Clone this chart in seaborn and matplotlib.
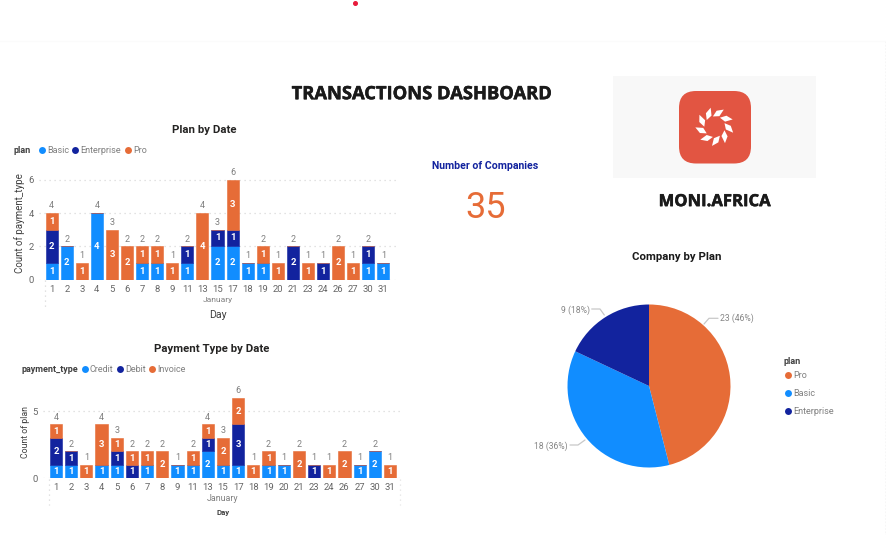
import matplotlib
matplotlib.use("Agg")
import matplotlib.pyplot as plt
import matplotlib.patheffects as pe
from matplotlib.patches import FancyBboxPatch, Polygon, Rectangle
from matplotlib.transforms import Affine2D
import pandas as pd
import seaborn as sns

days = [1, 2, 3, 4, 5, 6, 7, 8, 9, 11, 13, 15, 17, 18, 19, 20, 21, 23, 24, 26, 27, 30, 31]
basic = [1, 2, 0, 4, 0, 0, 1, 1, 0, 1, 0, 2, 2, 1, 1, 0, 0, 0, 0, 0, 0, 1, 1]
enterprise = [2, 0, 0, 0, 0, 0, 0, 0, 0, 1, 0, 1, 1, 0, 0, 0, 2, 0, 1, 0, 0, 1, 0]
pro = [1, 0, 1, 0, 3, 2, 1, 1, 1, 0, 4, 0, 3, 0, 1, 1, 0, 1, 0, 2, 1, 0, 0]

days_payment = [1, 2, 3, 4, 5, 6, 7, 8, 9, 11, 13, 15, 17, 18, 19, 20, 21, 23, 24, 26, 27, 30, 31]
credit = [1, 1, 0, 1, 1, 0, 1, 0, 1, 1, 2, 1, 1, 0, 1, 1, 0, 0, 0, 0, 1, 2, 0]
debit = [2, 1, 0, 0, 1, 1, 0, 0, 0, 0, 1, 0, 3, 0, 0, 0, 0, 1, 0, 0, 0, 0, 0]
invoice = [1, 0, 1, 3, 1, 1, 1, 2, 0, 1, 1, 2, 2, 1, 1, 0, 2, 0, 1, 2, 0, 0, 1]

pie_names = ["Pro", "Basic", "Enterprise"]
pie_values = [23, 18, 9]
pie_labels = ["23 (46%)", "18 (36%)", "9 (18%)"]
company_count = "35"

BLUE, NAVY, ORANGE = "#118DFF", "#12239E", "#E66C37"
GREY = "#7F7F7F"
W, H = 886, 535
FONT = ["Roboto", "DejaVu Sans"]
HEAD = ["Open Sans", "DejaVu Sans"]
STROKE = [pe.withStroke(linewidth=0.35, foreground="#1A1A1A")]

sns.set_theme(style="white")
plt.rcParams["font.family"] = FONT

fig = plt.figure(figsize=(W / 100, H / 100), dpi=100, facecolor="white")


def axes_px(x0, y0, x1, y1):
    return fig.add_axes([x0 / W, 1 - y1 / H, (x1 - x0) / W, (y1 - y0) / H])


def ftext(x, y, s, **kw):
    kw.setdefault("ha", "center")
    kw.setdefault("va", "center")
    return fig.text(x / W, 1 - (y + 0.6) / H, s, **kw)


def stacked(ax, labels, series):
    colours = [BLUE, NAVY, ORANGE]
    order = [str(d) for d in labels]
    base = [0] * len(labels)
    for values, colour in zip(series, colours):
        frame = pd.DataFrame({"day": order, "n": values})
        sns.barplot(data=frame, x="day", y="n", ax=ax, color=colour, bottom=base,
                    width=0.8, saturation=1, errorbar=None, order=order,
                    edgecolor=colour, linewidth=0.4, zorder=3)
        for i, v in enumerate(values):
            if v:
                ax.text(i, base[i] + v / 2, str(v), ha="center", va="center", color="white",
                        fontsize=6.8, fontweight="bold", zorder=4)
        base = [b + v for b, v in zip(base, values)]
    return base


def style(ax, totals, ticks):
    for i, t in enumerate(totals):
        ax.annotate(str(t), (i, t), xytext=(0, 2), textcoords="offset points",
                    ha="center", va="bottom", fontsize=6.5, color=GREY, annotation_clip=False)
    ax.set_yticks(ticks)
    ax.tick_params(axis="both", length=0, labelsize=6.8, labelcolor="#666666")
    ax.tick_params(axis="y", pad=4)
    ax.tick_params(axis="x", pad=3.6)
    ax.set_xlabel("")
    ax.set_ylabel("")
    sns.despine(ax=ax, left=True, bottom=True, top=True, right=True)
    ax.set_axisbelow(True)
    ax.grid(axis="y", color="#D9D9D9", linestyle=(0, (1, 3)), linewidth=0.9)
    ax.grid(axis="x", visible=False)
    ax.patch.set_alpha(0)


# top stacked chart
ax1 = axes_px(39.3, 165, 395.7, 279.5)
tot1 = stacked(ax1, days, [basic, enterprise, pro])
ax1.set_xlim(-0.823, 22.82)
ax1.set_ylim(0, 6 * 114.5 / 99.6)
style(ax1, tot1, [0, 2, 4, 6])

# bottom stacked chart
ax2 = axes_px(43, 385, 400, 478.3)
tot2 = stacked(ax2, days_payment, [credit, debit, invoice])
ax2.set_xlim(-0.856, 22.66)
ax2.set_ylim(0, 5 * 93.3 / 67.3)
style(ax2, tot2, [0, 5])

# dotted frames below the category labels
for x0, x1, y0, y1 in [(44.5, 396, 280, 307), (48.5, 400, 479, 505)]:
    fig.add_artist(plt.Line2D([x0 / W, x0 / W], [1 - y0 / H, 1 - y1 / H], color="#D9D9D9",
                              linestyle=(0, (1, 3)), linewidth=0.9))
fig.add_artist(plt.Line2D([399.5 / W] * 2, [1 - 479 / H, 1 - 505 / H], color="#E3E3E3",
                          linestyle=(0, (1, 3)), linewidth=0.9))

# axis and chart titles
ftext(422, 93.6, "TRANSACTIONS DASHBOARD", fontsize=13.2, fontweight="bold", color="#1A1A1A",
      family=HEAD, path_effects=STROKE)
ftext(204.5, 129, "Plan by Date", fontsize=8.2, fontweight="bold", color="#252423")
ftext(211.5, 348, "Payment Type by Date", fontsize=8.2, fontweight="bold", color="#252423")
ftext(217.5, 299, "January", fontsize=6, color=GREY)
ftext(217.5, 314, "Day", fontsize=7.6, color="#404040")
ftext(223, 498, "January", fontsize=6.4, color=GREY)
ftext(223, 512.3, "Day", fontsize=5.6, fontweight="bold", color="#404040")
ftext(20, 222.5, "Count of payment_type", fontsize=7, color="#404040", rotation=90)
ftext(25, 431.5, "Count of plan", fontsize=6.3, color="#404040", rotation=90)


def dot(x, y, colour):
    fig.add_artist(plt.Line2D([x / W], [1 - y / H], marker="o", markersize=5, markeredgewidth=0,
                              color=colour, linestyle="none"))


def legend_row(y, title, title_x, items):
    ftext(title_x, y, title, ha="left", fontsize=6.5, fontweight="bold", color="#404040")
    for dot_x, name, colour in items:
        dot(dot_x, y, colour)
        ftext(dot_x + 5, y, name, ha="left", fontsize=6.5, color=GREY)


legend_row(150, "plan", 13.5, [(42, "Basic", BLUE), (75, "Enterprise", NAVY), (128, "Pro", ORANGE)])
legend_row(368.5, "payment_type", 21, [(85, "Credit", BLUE), (120, "Debit", NAVY), (152, "Invoice", ORANGE)])

# KPI card
ftext(485, 165.3, "Number of Companies", fontsize=7.6, fontweight="bold", color="#12239E")
ftext(485.5, 207.5, company_count, fontsize=26, color=ORANGE)

# logo card
overlay = fig.add_axes([0, 0, 1, 1], zorder=-1)
overlay.set_xlim(0, W)
overlay.set_ylim(H, 0)
overlay.axis("off")
overlay.add_patch(Rectangle((613.5, 76), 203, 102, facecolor="#F8F8F8", edgecolor="none"))
overlay.add_patch(FancyBboxPatch((679, 91), 72, 72.5, boxstyle="round,pad=0,rounding_size=17",
                                 facecolor="#E25542", edgecolor="none"))
petal = [(-6.4, -8.2), (-0.8, -11.5), (0, -19.4), (-5.8, -15)]
for k in range(9):
    tr = Affine2D().rotate_deg(k * 40 - 12).translate(714.7, 126.7) + overlay.transData
    overlay.add_patch(Polygon(petal, closed=True, facecolor="white", edgecolor="none", transform=tr))

ftext(714.5, 200.5, "MONI.AFRICA", fontsize=12, fontweight="bold", color="#1A1A1A", family=HEAD,
      path_effects=STROKE)
fig.add_artist(plt.Line2D([885.5 / W] * 2, [1 - 41 / H, 0], color="#666666",
                          linestyle=(0, (1.5, 1.5)), linewidth=0.8))
fig.add_artist(plt.Line2D([0, 885 / W], [1 - 40.5 / H] * 2, color="#FBFBFB", linewidth=0.8))
overlay.plot([355], [2.5], marker="o", markersize=2.6, color="#E81A3B", clip_on=False)

# pie chart
ftext(677, 256, "Company by Plan", fontsize=8.2, fontweight="bold", color="#1A1A1A")
R = 81.5
cx, cy = 649, 386
ax3 = axes_px(cx - R, cy - R, cx + R, cy + R)
palette = sns.color_palette([ORANGE, BLUE, NAVY])
ax3.pie(pie_values, colors=palette, startangle=90, counterclock=False, radius=1,
        wedgeprops={"linewidth": 0})
ax3.set_xlim(-1, 1)
ax3.set_ylim(-1, 1)
ax3.set_aspect("equal")

for label, x, y, pts in [
    (pie_labels[0], 737, 318, [(704, 324), (709, 318.3), (718, 318.3)]),
    (pie_labels[1], 551.3, 446, [(585, 440), (578, 445), (570, 445)]),
    (pie_labels[2], 575.3, 310, [(604.3, 315), (600, 309), (591.7, 309)]),
]:
    ftext(x, y, label, fontsize=6.2, color="#858585")
    fig.add_artist(plt.Line2D([p[0] / W for p in pts], [1 - p[1] / H for p in pts],
                              color="#C8C8C8", linewidth=0.9))

ftext(784, 361, "plan", ha="left", fontsize=6.5, fontweight="bold", color="#404040")
for y, name, colour in zip([375, 393.3, 410.7], pie_names, palette):
    dot(787.7, y, colour)
    ftext(793.5, y, name, ha="left", fontsize=6.5, color=GREY)

fig.savefig("out.png", dpi=100)
